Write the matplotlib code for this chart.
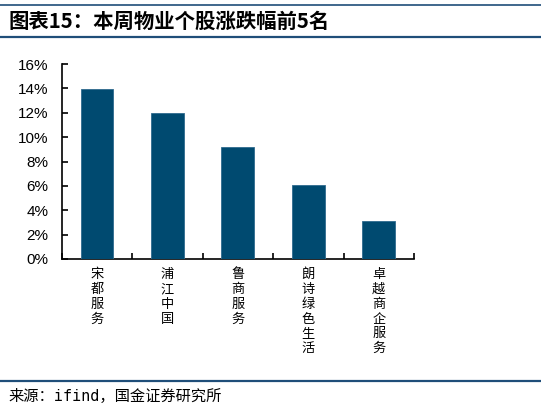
import matplotlib
matplotlib.use("Agg")
import matplotlib.pyplot as plt
from matplotlib.lines import Line2D

plt.rcParams['font.family'] = ['Liberation Sans', 'Noto Sans CJK SC', 'DejaVu Sans']

categories = ["宋都服务", "浦江中国", "鲁商服务", "朗诗绿色生活", "卓越商企服务"]
values = [13.95, 11.95, 9.2, 6.1, 3.15]
yticks = [0, 2, 4, 6, 8, 10, 12, 14, 16]
ytick_labels = [f"{v}%" for v in yticks]
title = "图表15：本周物业个股涨跌幅前5名"
source = "来源：ifind，国金证券研究所"

W, H = 541, 409
fig = plt.figure(figsize=(W / 100, H / 100), dpi=100)
ax_left, ax_right, ax_top, ax_bottom = 61.7, 414.0, 64.0, 259.0
ax = fig.add_axes([ax_left / W, 1 - ax_bottom / H, (ax_right - ax_left) / W, (ax_bottom - ax_top) / H])

bar_color = "#004A70"
x = list(range(len(categories)))
ax.bar(x, values, width=0.465, color=bar_color, edgecolor="#2E6A8E", linewidth=0.6, zorder=3)

ax.set_xlim(-0.5, len(categories) - 0.5)
ax.set_ylim(0, 16)
ax.set_yticks(yticks)
ax.set_yticklabels(ytick_labels, fontsize=11, family=['Liberation Sans', 'DejaVu Sans'])
ax.tick_params(axis='y', direction='in', length=4, width=1.2, pad=9.5)

ax.set_xticks([i + 0.5 for i in range(-1, len(categories))])
ax.set_xticklabels([])
ax.tick_params(axis='x', direction='in', length=4, width=1.2)

for s in ['top', 'right']:
    ax.spines[s].set_visible(False)
for s in ['left', 'bottom']:
    ax.spines[s].set_linewidth(1.2)

for i, c in enumerate(categories):
    ax.text(i, -0.75, "\n".join(c), ha='center', va='top', fontsize=9.5,
            family=['Noto Sans CJK SC', 'DejaVu Sans'], linespacing=1.18,
            transform=ax.transData)

line_color = "#1F4E79"
fig.add_artist(Line2D([0, 1], [1 - 5 / H, 1 - 5 / H], color=line_color, linewidth=1.2, transform=fig.transFigure))
fig.add_artist(Line2D([0, 1], [1 - 37 / H, 1 - 37 / H], color=line_color, linewidth=1.6, transform=fig.transFigure))
fig.add_artist(Line2D([0, 1], [1 - 381 / H, 1 - 381 / H], color=line_color, linewidth=1.6, transform=fig.transFigure))

fig.text(9 / W, 1 - 21.5 / H, title, ha='left', va='center', fontsize=14.7, fontweight='bold',
         family=['Noto Sans CJK SC', 'DejaVu Sans'])
fig.text(8 / W, 1 - 396 / H, source, ha='left', va='center', fontsize=11,
         family=['DejaVu Sans Mono', 'Noto Sans CJK SC'])

fig.savefig("out.png", dpi=100)
